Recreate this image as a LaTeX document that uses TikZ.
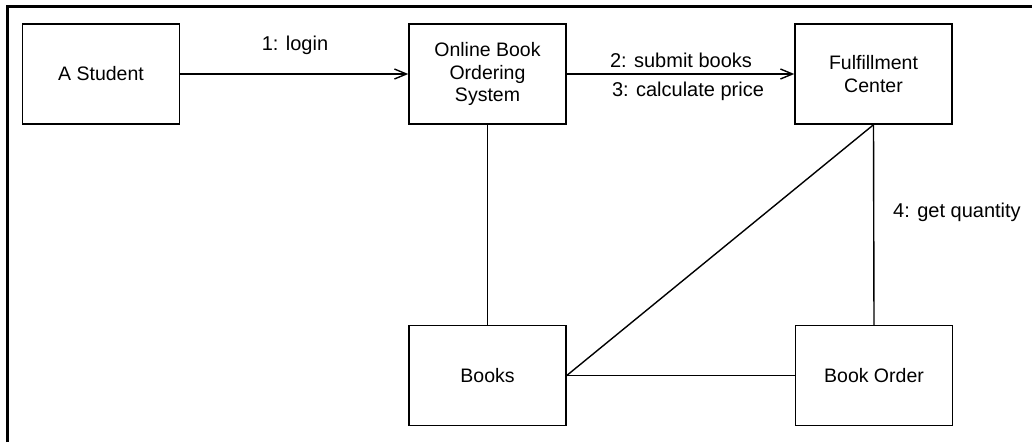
\documentclass[tikz,border=0pt]{standalone}
\usepackage{fontspec}
\setmainfont{Liberation Sans}
\usetikzlibrary{arrows.meta}
\begin{document}
\begin{tikzpicture}[x=1pt,y=-1pt,
  box/.style={draw=black, line width=1.5pt, minimum width=157pt, minimum height=100pt, inner sep=0pt, align=center, font=\fontsize{19.5}{22.5}\selectfont},
  conn/.style={line width=1.4pt},
  msg/.style={conn, -{Straight Barb[length=12pt,width=10pt,line width=1.4pt]}},
  lbl/.style={font=\fontsize{20}{23}\selectfont, inner sep=0pt}]
\useasboundingbox (0,0) rectangle (1034,442);
\fill[white] (0,0) rectangle (1034,442);
\draw[line width=3pt] (7,442) -- (7,6.5) -- (1032,6.5);
\node[box] (stu) at (101,74) {A Student};
\node[box] (obos) at (487.5,74) {Online Book\\Ordering\\System};
\node[box] (ful) at (873.5,74) {Fulfillment\\Center};
\node[box] (books) at (487.5,375.5) {Books};
\node[box] (order) at (874,375.5) {Book Order};
\draw[msg] (stu) -- (obos);
\draw[msg] (obos) -- (ful);
\draw[conn] (obos) -- (books);
\draw[conn] (books.east) -- (ful.south);
\draw[conn] (ful.south) -- (order.north);
\draw[conn] (books) -- (order);
\node[lbl] (l1) at (295,45) {1: login};
\node[lbl] (l2) at (681,60) {2: submit books};
\node[lbl] (l3) at (688,91) {3: calculate price};
\node[lbl, anchor=west] (l4) at (893,212) {4: get quantity};
\end{tikzpicture}
\end{document}
